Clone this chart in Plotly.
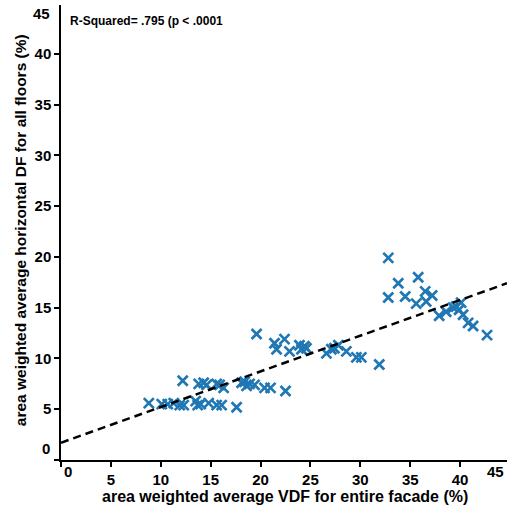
import plotly.graph_objects as go

# Data
vdf = [8.8, 10.1, 10.7, 11.3, 11.9, 12.3, 12.2, 13.5, 13.7, 14.0, 13.8, 14.3, 14.6, 14.8,
       15.6, 15.9, 16.3, 15.6, 16.1, 17.6, 18.1, 18.4, 18.6, 18.9, 19.4, 19.6, 20.4, 21.0,
       21.4, 21.6, 22.4, 22.9, 22.5, 23.9, 24.4, 24.1, 24.6, 26.6, 27.1, 27.4, 27.8, 28.6,
       29.6, 30.1, 31.9, 32.8, 33.8, 35.8, 32.8, 34.5, 35.6, 36.5, 36.6, 37.2, 37.9, 38.6,
       39.3, 39.6, 40.1, 39.9, 40.3, 40.8, 41.3, 42.7]
hdf = [5.6, 5.5, 5.5, 5.6, 5.4, 5.4, 7.8, 5.8, 5.4, 5.5, 7.5, 7.6, 7.4, 5.6,
       7.5, 7.4, 7.1, 5.4, 5.4, 5.2, 7.6, 7.7, 7.3, 7.5, 7.4, 12.4, 7.1, 7.1,
       11.5, 10.9, 11.9, 10.7, 6.8, 11.3, 11.2, 10.9, 11.0, 10.5, 10.9, 11.0, 11.3, 10.7,
       10.1, 10.1, 9.4, 19.9, 17.4, 18.0, 16.0, 16.1, 15.4, 16.6, 15.6, 16.2, 14.2, 14.6,
       15.0, 15.1, 15.5, 14.8, 14.3, 13.5, 13.2, 12.3]
fit_x = [0, 44.7]
fit_y = [1.7, 17.4]
x_ticks = [0, 5, 10, 15, 20, 25, 30, 35, 40]
x_ticktext = ["", "5", "10", "15", "20", "25", "30", "35", "40"]
y_ticks = [0, 5, 10, 15, 20, 25, 30, 35, 40]
y_ticktext = ["", "5", "10", "15", "20", "25", "30", "35", "40"]
x_title = "area weighted average VDF for entire facade (%)"
y_title = "area weighted average horizontal DF for all floors (%)"
note = "R-Squared= .795 (p < .0001"

FONT = "Liberation Sans, Arial, sans-serif"
BLUE = "#1f77b4"

fig = go.Figure()
fig.add_trace(go.Scatter(
    x=vdf, y=hdf, mode="markers",
    marker=dict(symbol="x-thin", size=10, color=BLUE,
                line=dict(color=BLUE, width=2.7)),
    showlegend=False, hoverinfo="skip"))
fig.add_trace(go.Scatter(
    x=fit_x, y=fit_y, mode="lines",
    line=dict(color="black", width=2.5, dash="8px,5px"),
    showlegend=False, hoverinfo="skip"))

tickfont = dict(family=FONT, size=15, color="black", weight="bold")
fig.update_layout(
    width=508, height=506,
    margin=dict(l=61, r=1, t=5, b=46),
    paper_bgcolor="white", plot_bgcolor="white",
    font=dict(family=FONT, color="black"),
    xaxis=dict(range=[0, 44.7], tickvals=x_ticks, ticktext=x_ticktext,
               automargin=False,
               showgrid=False, zeroline=False, showline=True, linecolor="black",
               linewidth=1.5, ticks="outside", ticklen=5, tickwidth=1.5,
               tickcolor="black", tickfont=tickfont),
    yaxis=dict(range=[0, 44.8], tickvals=y_ticks, ticktext=y_ticktext,
               automargin=False,
               showgrid=False, zeroline=False, showline=True, linecolor="black",
               linewidth=1.5, ticks="outside", ticklen=5, tickwidth=1.5,
               tickcolor="black", tickfont=tickfont),
)

# axis titles
fig.add_annotation(x=0.502, y=0, xref="paper", yref="paper", text=x_title,
                   showarrow=False, xanchor="center", yanchor="middle", yshift=-36,
                   font=dict(family=FONT, size=16, color="black", weight="bold"))
fig.add_annotation(x=0, y=0.505, xref="paper", yref="paper", text=y_title,
                   showarrow=False, xanchor="center", yanchor="middle", xshift=-41,
                   textangle=-90,
                   font=dict(family=FONT, size=15.5, color="black", weight="bold"))

# edge tick labels placed inward as in the reference
fig.add_annotation(x=0, y=0, xref="x", yref="paper", text="0", showarrow=False,
                   xanchor="center", yanchor="top", xshift=7, yshift=-1, font=tickfont)
fig.add_annotation(x=44.7, y=0, xref="x", yref="paper", text="45", showarrow=False,
                   xanchor="right", yanchor="top", xshift=-1, yshift=-1, font=tickfont)
fig.add_annotation(x=0, y=1.16, xref="paper", yref="y", text="0", showarrow=False,
                   xanchor="right", yanchor="middle", xshift=-9, font=tickfont)
fig.add_annotation(x=0, y=44.0, xref="paper", yref="y", text="45", showarrow=False,
                   xanchor="right", yanchor="middle", xshift=-9, font=tickfont)
fig.add_annotation(x=0.7, y=43.2, xref="x", yref="y", text=note,
                   showarrow=False, xanchor="left", yanchor="middle",
                   font=dict(family=FONT, size=12, color="black", weight="bold"))

fig.write_html("out.html", config={"displayModeBar": False},
               post_script="document.body.style.margin='0';document.body.style.overflow='hidden';")
